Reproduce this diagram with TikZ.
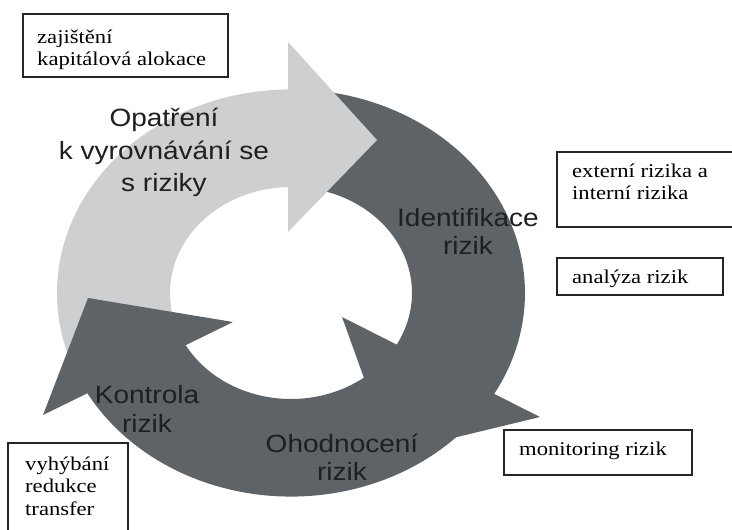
\documentclass[tikz,border=0pt]{standalone}
\usepackage{fontspec}
\newfontfamily\ringfont[FakeStretch=1.12]{Liberation Sans}
\newfontfamily\boxfont[FakeStretch=1.16]{Liberation Serif}
\definecolor{darkc}{HTML}{5E6368}
\definecolor{lightc}{HTML}{CDCFD1}
\begin{document}
\begin{tikzpicture}[x=1pt,y=-1pt,
  ringlbl/.style={font=\ringfont\fontsize{25}{30}\selectfont, text=black!88, inner sep=0pt, anchor=base},
  boxtxt/.style={font=\boxfont\fontsize{19.5}{22}\selectfont, inner sep=0pt, anchor=base west},
  infobox/.style={draw=black!85, line width=1.3pt, fill=white, anchor=north west, inner sep=0pt, outer sep=0pt},
]
\useasboundingbox (0,0) rectangle (732,530);
\clip (0,0) rectangle (732,530);
\fill[white] (0,0) rectangle (732,530);

% dark ring (Identifikace -> Ohodnoceni -> Kontrola)
\fill[darkc] plot[domain=272:510.7,samples=120] ({291+234*cos(\x)},{293+203.6*sin(\x)})
  -- plot[domain=510.7:272,samples=120] ({291+121*cos(\x)},{293+106*sin(\x)}) -- cycle;
% head at lower right
\fill[darkc] (540,417) -- (342,317) -- (391,453) -- cycle;
% light arrow (Opatreni)
\fill[lightc] plot[domain=156:269.5,samples=80] ({291+234*cos(\x)},{293+203.6*sin(\x)})
  -- plot[domain=269.5:156,samples=80] ({291+121*cos(\x)},{293+106*sin(\x)}) -- cycle;
\fill[lightc] (288,42) -- (377,140) -- (288,232) -- cycle;
% head at left (Kontrola)
\fill[darkc] (43,415) -- (233,322) -- (88,298) -- cycle;

% ring labels
\node[ringlbl] (op1) at (164,126) {Opatření};
\node[ringlbl] (op2) at (164,159) {k vyrovnávání se};
\node[ringlbl] (op3) at (164,191) {s riziky};
\node[ringlbl] (id1) at (468,226) {Identifikace};
\node[ringlbl] (id2) at (468,254) {rizik};
\node[ringlbl] (oh1) at (342,452) {Ohodnocení};
\node[ringlbl] (oh2) at (342,480) {rizik};
\node[ringlbl] (ko1) at (147,403) {Kontrola};
\node[ringlbl] (ko2) at (147,432) {rizik};

% boxes
\node[infobox, minimum width=205, minimum height=63] (b1) at (23,14) {};
\node[boxtxt] (b1a) at (37,43) {zajištění};
\node[boxtxt] (b1b) at (37,65) {kapitálová alokace};

\node[infobox, minimum width=190, minimum height=75] (b2) at (557,152) {};
\node[boxtxt] (b2a) at (572,177) {externí rizika a};
\node[boxtxt] (b2b) at (572,199) {interní rizika};

\node[infobox, minimum width=166, minimum height=37] (b3) at (557,258) {};
\node[boxtxt] (b3a) at (572,283) {analýza rizik};

\node[infobox, minimum width=188, minimum height=45] (b4) at (504,430) {};
\node[boxtxt] (b4a) at (519,455) {monitoring rizik};

\node[infobox, minimum width=120, minimum height=100] (b5) at (8,443) {};
\node[boxtxt] (b5a) at (25,470) {vyhýbání};
\node[boxtxt] (b5b) at (25,492) {redukce};
\node[boxtxt] (b5c) at (25,515) {transfer};
\end{tikzpicture}
\end{document}
